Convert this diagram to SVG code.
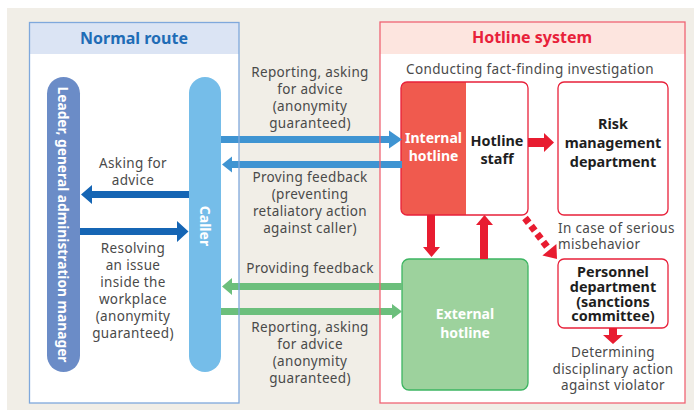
<svg xmlns="http://www.w3.org/2000/svg" width="694" height="410" viewBox="0 0 694 410">
<style>
.lbl{font-family:"Noto Sans","Open Sans","Liberation Sans",sans-serif;font-size:13.5px;letter-spacing:0.35px;fill:#4a4a4a;text-anchor:middle}
.bold{font-family:"Noto Sans","Open Sans","Liberation Sans",sans-serif;font-weight:bold;text-anchor:middle}
.dk{fill:#1e1e1e;font-size:14.4px}
.wh{fill:#ffffff;font-size:14px}
</style>
<rect x="0" y="0" width="694" height="410" fill="#ffffff"/>
<rect x="7" y="8" width="687" height="402" fill="#f1eee7"/>

<g id="normal-route">
<rect x="29.5" y="22.5" width="209.5" height="380.5" fill="#ffffff"/>
<rect x="29.5" y="22.5" width="209.5" height="31.5" fill="#dbe4f4"/>
<text class="bold" x="134" y="44" font-size="16" fill="#1f6cb6">Normal route</text>
</g>
<g id="hotline-system">
<rect x="380" y="22" width="305" height="381" fill="#ffffff"/>
<rect x="380" y="22" width="305" height="32" fill="#fde5df"/>
<text class="bold" x="532" y="43" font-size="16" fill="#e8213a">Hotline system</text>
<text class="lbl" x="530" y="74">Conducting fact-finding investigation</text>
</g>

<g id="leader">
<rect x="47" y="77" width="33" height="295" rx="16.5" fill="#6b8cc7"/>
<text class="bold" fill="#ffffff" transform="translate(58,224.5) rotate(90)" x="0" y="0" style="font-size:13.5px" textLength="276" lengthAdjust="spacingAndGlyphs">Leader, general administration manager</text>
</g>
<g id="caller">
<rect x="189" y="77" width="32" height="295" rx="16" fill="#75bde9"/>
<text class="bold" fill="#ffffff" transform="translate(200,226) rotate(90)" x="0" y="0" style="font-size:14px">Caller</text>
</g>

<g id="internal-hotline">
<rect x="401" y="82" width="127" height="133" rx="6" fill="#ffffff"/>
<path d="M407,82 H466 V215 H407 A6,6 0 0 1 401,209 V88 A6,6 0 0 1 407,82 Z" fill="#f05a4e"/>
<rect x="401" y="82" width="127" height="133" rx="6" fill="none" stroke="#e8213a" stroke-width="1.3"/>
<text class="bold wh" x="433.5" y="143">Internal</text>
<text class="bold wh" x="433.5" y="161">hotline</text>
<text class="bold dk" x="497" y="146">Hotline</text>
<text class="bold dk" x="497" y="164">staff</text>
</g>
<g id="risk-management">
<rect x="558" y="82" width="110" height="133" rx="6" fill="#ffffff" stroke="#e8213a" stroke-width="1.3"/>
<text class="bold dk" x="613" y="129">Risk</text>
<text class="bold dk" x="613" y="148">management</text>
<text class="bold dk" x="613" y="167">department</text>
</g>
<g id="personnel">
<rect x="558" y="259" width="110" height="69" rx="6" fill="#ffffff" stroke="#e8213a" stroke-width="1.3"/>
<text class="bold dk" x="613" y="277">Personnel</text>
<text class="bold dk" x="613" y="292">department</text>
<text class="bold dk" x="613" y="306.5">(sanctions</text>
<text class="bold dk" x="613" y="321">committee)</text>
</g>
<g id="external-hotline">
<rect x="402" y="259" width="126" height="131" rx="7" fill="#9dd29d" stroke="#3db562" stroke-width="1.3"/>
<text class="bold wh" x="465" y="319">External</text>
<text class="bold wh" x="465" y="338">hotline</text>
</g>

<g id="connectors">
<polygon points="221,136 389,136 389,130.5 402,139.5 389,148.5 389,143 221,143" fill="#3f94d2"/>
<polygon points="402,161 232,161 232,156.5 222,164.5 232,172.5 232,168 402,168" fill="#3f94d2"/>
<polygon points="189,191 92,191 92,185 81,194.5 92,204 92,198 189,198" fill="#1565b4"/>
<polygon points="80,228 177,228 177,221 188.5,231.5 177,242 177,235 80,235" fill="#1565b4"/>
<polygon points="402,283 232,283 232,278 222,286.5 232,295 232,290 402,290" fill="#6cbf7c"/>
<polygon points="221,308 392,308 392,304 402,311.5 392,319 392,315 221,315" fill="#6cbf7c"/>
<polygon points="528,138 544,138 544,133 554,142.5 544,152 544,147 528,147" fill="#e81c30"/>
<polygon points="427,215 435,215 435,247 440,247 431.5,257 423,247 427,247" fill="#e81c30"/>
<polygon points="480,259 488,259 488,225 493,225 484.5,215 476,225 480,225" fill="#e81c30"/>
<polygon points="609,328 617,328 617,335 623,335 613,344 603,335 609,335" fill="#e81c30"/>
<line x1="525" y1="218" x2="549.4" y2="249.7" stroke="#e81c30" stroke-width="7" stroke-dasharray="6 4"/>
<polygon points="557,259 556.4,244 542.4,255.4" fill="#e81c30"/>
</g>

<rect x="380" y="22" width="305" height="381" fill="none" stroke="#f06473" stroke-width="1.3"/>
<rect x="29.5" y="22.5" width="209.5" height="380.5" fill="none" stroke="#7fa8dc" stroke-width="1.3"/>

<g id="labels">
<text class="lbl" x="310" y="77">Reporting, asking</text>
<text class="lbl" x="310" y="94">for advice</text>
<text class="lbl" x="310" y="111">(anonymity</text>
<text class="lbl" x="310" y="128">guaranteed)</text>
<text class="lbl" x="310" y="182">Proving feedback</text>
<text class="lbl" x="310" y="199">(preventing</text>
<text class="lbl" x="310" y="216">retaliatory action</text>
<text class="lbl" x="310" y="233">against caller)</text>
<text class="lbl" x="310" y="273">Providing feedback</text>
<text class="lbl" x="310" y="332">Reporting, asking</text>
<text class="lbl" x="310" y="349">for advice</text>
<text class="lbl" x="310" y="366">(anonymity</text>
<text class="lbl" x="310" y="383">guaranteed)</text>
<text class="lbl" x="133" y="168">Asking for</text>
<text class="lbl" x="133" y="185">advice</text>
<text class="lbl" x="133" y="253">Resolving</text>
<text class="lbl" x="133" y="270">an issue</text>
<text class="lbl" x="133" y="287">inside the</text>
<text class="lbl" x="133" y="304">workplace</text>
<text class="lbl" x="133" y="321">(anonymity</text>
<text class="lbl" x="133" y="338">guaranteed)</text>
<text class="lbl" x="558" y="233" style="text-anchor:start">In case of serious</text>
<text class="lbl" x="558" y="249" style="text-anchor:start">misbehavior</text>
<text class="lbl" x="613" y="357">Determining</text>
<text class="lbl" x="613" y="374">disciplinary action</text>
<text class="lbl" x="613" y="390">against violator</text>
</g>
</svg>
